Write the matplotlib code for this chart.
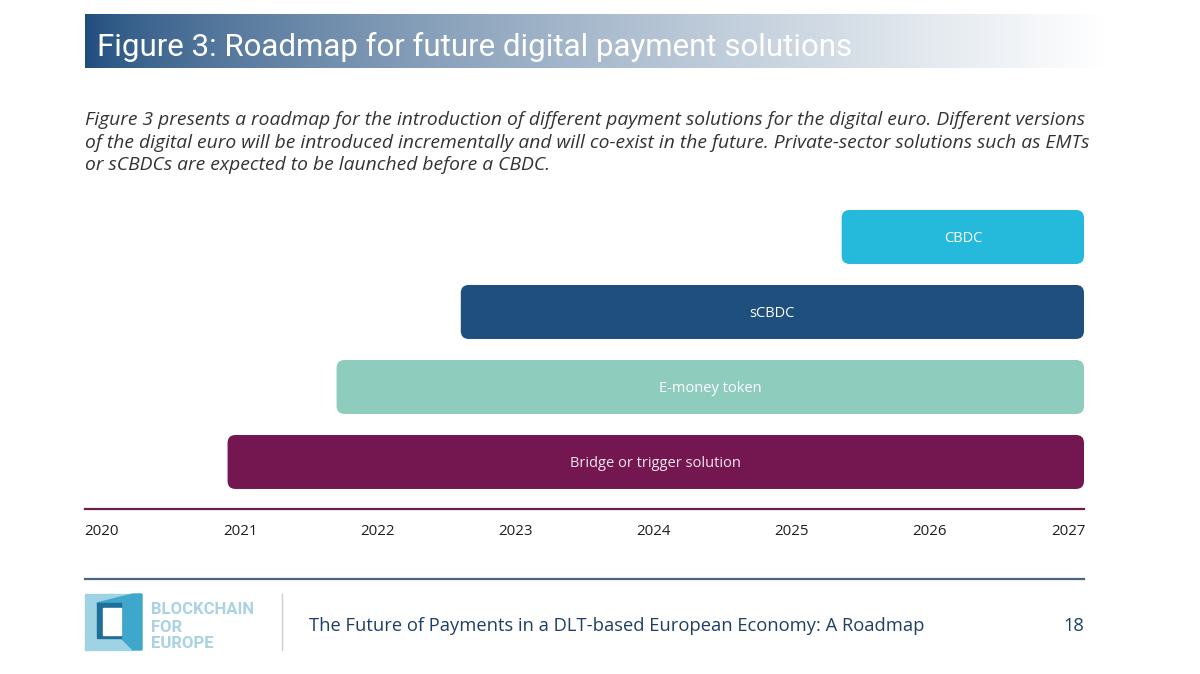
import numpy as np
import matplotlib
matplotlib.use('Agg')
import matplotlib.pyplot as plt
from matplotlib.patches import FancyBboxPatch, Rectangle, Polygon

# roadmap data (years)
solutions = ['Bridge or trigger solution', 'E-money token', 'sCBDC', 'CBDC']
start_year = [2020.91, 2021.70, 2022.60, 2025.36]
end_year = [2027.12, 2027.12, 2027.12, 2027.12]
bar_colors = ['#741750', '#8ecdbd', '#1f4f7f', '#25b9dc']
label_colors = ['#f3e6ee', '#ffffff', '#ffffff', '#ffffff']
years = [2020, 2021, 2022, 2023, 2024, 2025, 2026, 2027]

title = 'Figure 3: Roadmap for future digital payment solutions'
intro = ['Figure 3 presents a roadmap for the introduction of different payment solutions for the digital euro. Different versions',
         'of the digital euro will be introduced incrementally and will co-exist in the future. Private-sector solutions such as EMTs',
         'or sCBDCs are expected to be launched before a CBDC.']
footer = 'The Future of Payments in a DLT-based European Economy: A Roadmap'
page = '18'

W, H = 1200, 674
fig = plt.figure(figsize=(W / 100, H / 100), dpi=100)
fig.patch.set_facecolor('white')

# page overlay in pixel coordinates
pg = fig.add_axes([0, 0, 1, 1])
pg.set_xlim(0, W)
pg.set_ylim(H, 0)
pg.axis('off')

# header with gradient
t = np.linspace(0, 1, 400)
c0 = np.array([0x1e, 0x4c, 0x7d]) / 255
c1 = np.array([1.0, 1.0, 1.0])
w = np.clip(t, 0, 1) ** 0.7
grad = c0[None, :] * (1 - w[:, None]) + c1[None, :] * w[:, None]
pg.imshow(grad[None, :, :], extent=(85, 1105, 68, 14), aspect='auto', zorder=1)
pg.text(97, 47, title, color='white', fontsize=22.5, family='Roboto',
        va='center', ha='left', zorder=2)

for i, line in enumerate(intro):
    pg.text(85, 120 + i * 22.5, line, color='#333333', fontsize=13.9,
            family='Open Sans', style='italic', va='center', ha='left')

# footer
pg.plot([85, 1084], [579, 579], color='#4a6782', lw=1.6)
pg.plot([282, 282], [594, 650], color='#cfcfcf', lw=1)
pg.text(309, 626, footer, color='#1f3f66', fontsize=13.2, family='Open Sans',
        va='center', ha='left')
pg.text(1084, 626, page, color='#1f3f66', fontsize=13.2, family='Open Sans',
        va='center', ha='right')

# logo
pg.add_patch(Rectangle((85, 594), 48, 56, color='#9fd3e3', zorder=2))
pg.add_patch(Polygon([(97, 603), (133, 594), (142, 594), (142, 650), (133, 650), (121, 638)],
                     color='#3fa7cc', zorder=2))
pg.add_patch(Polygon([(97, 603), (121, 603), (121, 638), (97, 638)], color='#1f6f9c', zorder=3))
pg.add_patch(Rectangle((103, 608), 18, 27, color='white', zorder=4))
for i, word in enumerate(['BLOCKCHAIN', 'FOR', 'EUROPE']):
    pg.text(151, 610 + i * 17, word, color='#a9d3e2', fontsize=12, family='Roboto',
            weight='bold', va='center', ha='left')

# chart axes
ax = fig.add_axes([85 / W, 1 - 509 / H, (1084 - 85) / W, (509 - 200) / H])
ax.set_facecolor('none')
ax.set_xlim(2019.877, 2027.116)
ax.set_ylim(-0.627, 3.493)

bar_h = 0.72
for i, (name, s, e) in enumerate(zip(solutions, start_year, end_year)):
    e = min(e, 2027.116)
    box = FancyBboxPatch((s, i - bar_h / 2), e - s, bar_h,
                         boxstyle='round,pad=0,rounding_size=0.058',
                         mutation_aspect=138 / 75,
                         facecolor=bar_colors[i], edgecolor='none')
    ax.add_patch(box)
    ax.text((s + e) / 2, i - 0.02, name, color=label_colors[i], fontsize=10.5,
            family='Open Sans', ha='center', va='center')

ax.set_xticks(years)
ax.set_xticklabels([str(y) for y in years], fontsize=10.8, family='Open Sans', color='#1e1e1e')
ax.tick_params(axis='x', length=0, pad=11)
ax.set_yticks([])
for sp in ['top', 'left', 'right']:
    ax.spines[sp].set_visible(False)
ax.spines['bottom'].set_color('#6b1d4d')
ax.spines['bottom'].set_linewidth(1.6)

fig.savefig('out.png', dpi=100)
